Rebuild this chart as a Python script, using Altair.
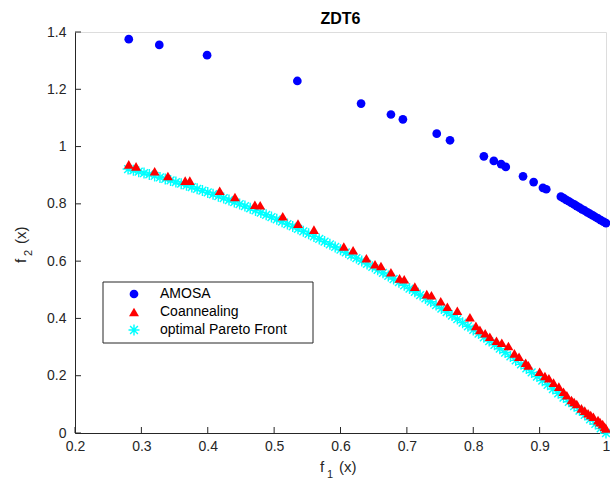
import altair as alt
import pandas as pd

# ZDT6 test problem: solutions found by two annealing methods plus the true front
amosa_f1 = [0.281, 0.327, 0.399, 0.535, 0.631, 0.676, 0.694, 0.745, 0.765, 0.816,
            0.831, 0.842, 0.849, 0.875, 0.891, 0.905, 0.910, 0.932, 0.936, 0.940,
            0.944, 0.948, 0.952, 0.956, 0.960, 0.964, 0.968, 0.972, 0.976, 0.980,
            0.984, 0.988, 0.992, 0.996, 1.000]
amosa_f2 = [1.375, 1.355, 1.319, 1.229, 1.150, 1.112, 1.095, 1.045, 1.022, 0.966,
            0.950, 0.939, 0.929, 0.896, 0.876, 0.856, 0.851, 0.825, 0.820, 0.814,
            0.809, 0.803, 0.798, 0.792, 0.787, 0.781, 0.776, 0.770, 0.765, 0.760,
            0.754, 0.749, 0.743, 0.738, 0.733]

coann_f1 = [0.281, 0.292, 0.320, 0.340, 0.366, 0.373, 0.418, 0.441, 0.471, 0.479,
            0.513, 0.536, 0.560, 0.605, 0.619, 0.639, 0.652, 0.661, 0.676, 0.689,
            0.696, 0.712, 0.730, 0.737, 0.751, 0.761, 0.776, 0.795, 0.804, 0.810,
            0.818, 0.825, 0.835, 0.843, 0.853, 0.862, 0.869, 0.879, 0.883, 0.900,
            0.908, 0.914, 0.921, 0.929, 0.936, 0.941, 0.948, 0.952, 0.956, 0.963,
            0.968, 0.973, 0.977, 0.981, 0.988, 0.991, 0.995, 0.998, 1.000]
coann_f2 = [0.938, 0.931, 0.914, 0.897, 0.881, 0.881, 0.846, 0.824, 0.797, 0.795,
            0.757, 0.731, 0.710, 0.651, 0.638, 0.610, 0.589, 0.583, 0.561, 0.540,
            0.537, 0.511, 0.485, 0.481, 0.460, 0.441, 0.427, 0.404, 0.374, 0.360,
            0.348, 0.336, 0.322, 0.315, 0.304, 0.278, 0.266, 0.245, 0.236, 0.214,
            0.199, 0.191, 0.176, 0.162, 0.144, 0.132, 0.115, 0.108, 0.101, 0.086,
            0.078, 0.069, 0.063, 0.057, 0.045, 0.038, 0.031, 0.022, 0.016]

pareto_f1 = [0.280, 0.288, 0.296, 0.304, 0.312, 0.320, 0.328, 0.336, 0.344, 0.352,
             0.360, 0.368, 0.376, 0.384, 0.392, 0.400, 0.408, 0.416, 0.424, 0.432,
             0.440, 0.448, 0.456, 0.464, 0.472, 0.480, 0.488, 0.496, 0.504, 0.512,
             0.520, 0.528, 0.536, 0.544, 0.552, 0.560, 0.568, 0.576, 0.584, 0.592,
             0.600, 0.608, 0.616, 0.624, 0.632, 0.640, 0.648, 0.656, 0.664, 0.672,
             0.680, 0.688, 0.696, 0.704, 0.712, 0.720, 0.728, 0.736, 0.744, 0.752,
             0.760, 0.768, 0.776, 0.784, 0.792, 0.800, 0.808, 0.816, 0.824, 0.832,
             0.840, 0.848, 0.856, 0.864, 0.872, 0.880, 0.888, 0.896, 0.904, 0.912,
             0.920, 0.928, 0.936, 0.944, 0.952, 0.960, 0.968, 0.976, 0.984, 0.992,
             1.000]
pareto_f2 = [0.9216, 0.9171, 0.9124, 0.9076, 0.9027, 0.8976, 0.8924, 0.8871, 0.8817, 0.8761,
             0.8704, 0.8646, 0.8586, 0.8525, 0.8463, 0.8400, 0.8335, 0.8269, 0.8202, 0.8134,
             0.8064, 0.7993, 0.7921, 0.7847, 0.7772, 0.7696, 0.7619, 0.7540, 0.7460, 0.7379,
             0.7296, 0.7212, 0.7127, 0.7041, 0.6953, 0.6864, 0.6774, 0.6682, 0.6589, 0.6495,
             0.6400, 0.6303, 0.6205, 0.6106, 0.6006, 0.5904, 0.5801, 0.5697, 0.5591, 0.5484,
             0.5376, 0.5267, 0.5156, 0.5044, 0.4931, 0.4816, 0.4700, 0.4583, 0.4465, 0.4345,
             0.4224, 0.4102, 0.3978, 0.3853, 0.3727, 0.3600, 0.3471, 0.3341, 0.3210, 0.3078,
             0.2944, 0.2809, 0.2673, 0.2535, 0.2396, 0.2256, 0.2115, 0.1972, 0.1828, 0.1683,
             0.1536, 0.1388, 0.1239, 0.1089, 0.0937, 0.0784, 0.0630, 0.0474, 0.0317, 0.0159,
             0.0000]

x_ticks = [0.2, 0.3, 0.4, 0.5, 0.6, 0.7, 0.8, 0.9, 1.0]
y_ticks = [0.0, 0.2, 0.4, 0.6, 0.8, 1.0, 1.2, 1.4]

series = ["AMOSA", "Coannealing", "optimal Pareto Front"]
colors = ["#0000ff", "#ff0000", "#00ffff"]
# eight-armed star drawn as filled bars in the unit square
ASTERISK = ("M-1,-0.13L1,-0.13L1,0.13L-1,0.13Z"
            "M-0.13,-1L0.13,-1L0.13,1L-0.13,1Z"
            "M-0.615,-0.799L0.799,0.615L0.615,0.799L-0.799,-0.615Z"
            "M-0.799,0.615L0.615,-0.799L0.799,-0.615L-0.615,0.799Z")
shapes = ["circle", "triangle-up", ASTERISK]
sizes = [76, 121, 84]

FONT = "Liberation Sans"
AXIS_COLOR = "#262626"
W, H = 531, 401

points = pd.concat([
    pd.DataFrame({"f1": amosa_f1, "f2": amosa_f2, "series": series[0]}),
    pd.DataFrame({"f1": coann_f1, "f2": coann_f2, "series": series[1]}),
    pd.DataFrame({"f1": pareto_f1, "f2": pareto_f2, "series": series[2]}),
], ignore_index=True)

xscale = alt.Scale(domain=[0.2, 1.0], nice=False, zero=False)
yscale = alt.Scale(domain=[0.0, 1.4], nice=False)
xaxis = alt.Axis(values=x_ticks, title=None, ticks=False, tickSize=0, grid=False,
                 domainColor=AXIS_COLOR, labelColor=AXIS_COLOR, labelFont=FONT,
                 labelFontSize=14, labelPadding=6, labelFlush=False,
                 labelExpr="datum.value == 1 ? '1' : format(datum.value, '.1f')")
yaxis = alt.Axis(values=y_ticks, title=None, ticks=False, tickSize=0, grid=False,
                 domainColor=AXIS_COLOR, labelColor=AXIS_COLOR, labelFont=FONT,
                 labelFontSize=14, labelPadding=9, labelFlush=False,
                 labelExpr="(datum.value == 0 || datum.value == 1) ? format(datum.value, 'd') : format(datum.value, '.1f')")

# legend entries sit inside a separately drawn frame (LEG_* are pixel offsets
# from the plot's top-left corner)
LEG_X, LEG_Y, LEG_W, LEG_H = 28, 250, 210, 61
legend = alt.Legend(title=None, orient="none", legendX=LEG_X, legendY=LEG_Y,
                    direction="vertical", padding=5, symbolOffset=19, labelOffset=19,
                    labelFont=FONT, labelFontSize=14, labelColor="black", rowPadding=4,
                    symbolStrokeWidth=0, labelLimit=400)

enc = dict(
    x=alt.X("f1:Q", scale=xscale, axis=xaxis),
    y=alt.Y("f2:Q", scale=yscale, axis=yaxis),
    color=alt.Color("series:N", scale=alt.Scale(domain=series, range=colors), legend=legend),
    shape=alt.Shape("series:N", scale=alt.Scale(domain=series, range=shapes), legend=legend),
    size=alt.Size("series:N", scale=alt.Scale(domain=series, range=sizes), legend=legend),
)

base = alt.Chart(points).mark_point(filled=True, opacity=1, strokeWidth=0)
front_layer = base.transform_filter(alt.datum.series == series[2]).encode(**enc)
coann_layer = base.transform_filter(alt.datum.series == series[1]).encode(**enc)
amosa_layer = base.transform_filter(alt.datum.series == series[0]).encode(**enc)

# inward-pointing tick marks on both axes
xtick_layer = alt.Chart(pd.DataFrame({"f1": x_ticks})).mark_rule(
    color=AXIS_COLOR, strokeWidth=1).encode(
    x=alt.X("f1:Q", scale=xscale, axis=xaxis), y=alt.value(H), y2=alt.value(H - 6))
ytick_layer = alt.Chart(pd.DataFrame({"f2": y_ticks})).mark_rule(
    color=AXIS_COLOR, strokeWidth=1).encode(
    y=alt.Y("f2:Q", scale=yscale, axis=yaxis), x=alt.value(0), x2=alt.value(6))

legend_frame = alt.Chart(pd.DataFrame({"k": [0]})).mark_rect(
    fill="white", stroke=AXIS_COLOR, strokeWidth=1).encode(
    x=alt.value(LEG_X), x2=alt.value(LEG_X + LEG_W),
    y=alt.value(LEG_Y), y2=alt.value(LEG_Y + LEG_H))


def label(text, x, y, size=15, angle=0):
    return alt.Chart(pd.DataFrame({"t": [text]})).mark_text(
        font=FONT, fontSize=size, color=AXIS_COLOR, align="left",
        baseline="alphabetic", angle=angle).encode(
        text="t:N", x=alt.value(x), y=alt.value(y))


titles = (label("f", 245, 440) + label("1", 252, 446, 11) + label("(x)", 264, 440)
          + label("f", -49, 231, angle=270) + label("2", -43, 224, 11, angle=270)
          + label("(x)", -49, 212, angle=270))

chart = alt.layer(
    xtick_layer, ytick_layer, front_layer, coann_layer, amosa_layer,
    legend_frame, titles
).properties(
    width=W, height=H,
    title=alt.TitleParams("ZDT6", font=FONT, fontSize=16, fontWeight="bold",
                          color="black", offset=1, dy=3),
    padding={"left": 75, "top": 32, "right": 4, "bottom": 57},
    autosize=alt.AutoSizeParams(type="none"),
).configure_view(stroke=None).configure(background="white")

chart.save("out.html", embed_options={"renderer": "svg", "actions": False})
